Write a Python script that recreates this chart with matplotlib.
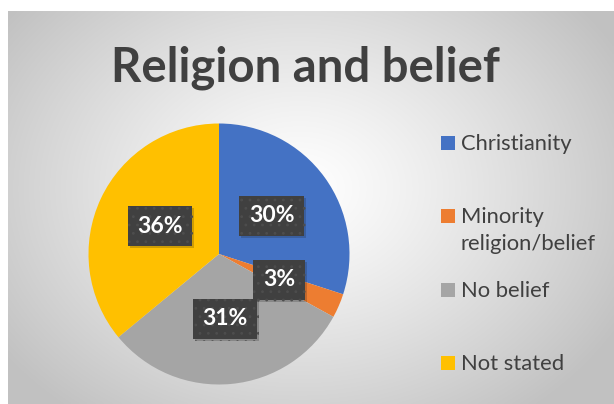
import numpy as np
import matplotlib
matplotlib.use("Agg")
import matplotlib.pyplot as plt
from matplotlib.patches import Rectangle
import matplotlib.patheffects as pe

categories = ["Christianity", "Minority\nreligion/belief", "No belief", "Not stated"]
values = [30, 3, 31, 36]
colors = ["#4472C4", "#ED7D31", "#A5A5A5", "#FFC000"]
title = "Religion and belief"

W, H = 614, 404
fig = plt.figure(figsize=(W / 100, H / 100), dpi=100)
fig.patch.set_facecolor("white")

# background chart area with radial gradient
bx0, by_top = 8, 11
bg = fig.add_axes([bx0 / W, 0, 1 - bx0 / W, (H - by_top) / H])
ny, nx = 200, 300
yy, xx = np.mgrid[0:ny, 0:nx]
cx, cy = nx * 0.48, ny * 0.45
d = np.sqrt(((xx - cx) / (nx * 0.6)) ** 2 + ((yy - cy) / (ny * 0.72)) ** 2)
d = np.clip(d, 0, 1)
g = 1.0 - 0.24 * d ** 1.2
img = np.dstack([g, g, g])
bg.imshow(img, aspect="auto", extent=[0, 1, 0, 1], interpolation="bilinear")
bg.set_xlim(0, 1); bg.set_ylim(0, 1)
bg.axis("off")

# title
fig.text(305 / W, 1 - 68 / H, title, ha="center", va="center",
         fontsize=34, fontweight="bold", color="#404040", family="Lato")

# pie
pcx, pcy, R = 219, 404 - 254, 130.5
ax = fig.add_axes([(pcx - R) / W, (pcy - R) / H, 2 * R / W, 2 * R / H])
plt.rcParams["hatch.linewidth"] = 0.8
wedges, texts, autotexts = ax.pie(
    values, colors=colors, startangle=90, counterclock=False, radius=1,
    autopct=lambda p: f"{p:.0f}%", pctdistance=0.5,
    wedgeprops=dict(linewidth=0),
    textprops=dict(color="white", fontsize=16.5, fontweight="bold", family="Lato"))
ax.set_xlim(-1, 1); ax.set_ylim(-1, 1)
ax.set_aspect("equal")
ax.axis("off")
for t in autotexts:
    t.set_bbox(dict(boxstyle="square,pad=0.42", facecolor="#404040",
                    edgecolor="#4d4d4d", linewidth=0, hatch=".."))
    t.get_bbox_patch().set_path_effects(
        [pe.SimplePatchShadow(offset=(1.5, -1.5), alpha=0.2), pe.Normal()])

# legend (manual, Excel-like even slots)
leg_top = 137
slot = 73.3
for i, (lab, col) in enumerate(zip(categories, colors)):
    ytop = leg_top + i * slot
    fig.patches.append(Rectangle((441 / W, 1 - (ytop + 13) / H), 14 / W, 14 / H,
                                 transform=fig.transFigure, facecolor=col,
                                 edgecolor="none"))
    fig.text(461 / W, 1 - (ytop - 3) / H, lab, ha="left", va="top",
             fontsize=15.8, color="#404040", family="Lato", linespacing=1.45)

fig.savefig("out.png", dpi=100)
